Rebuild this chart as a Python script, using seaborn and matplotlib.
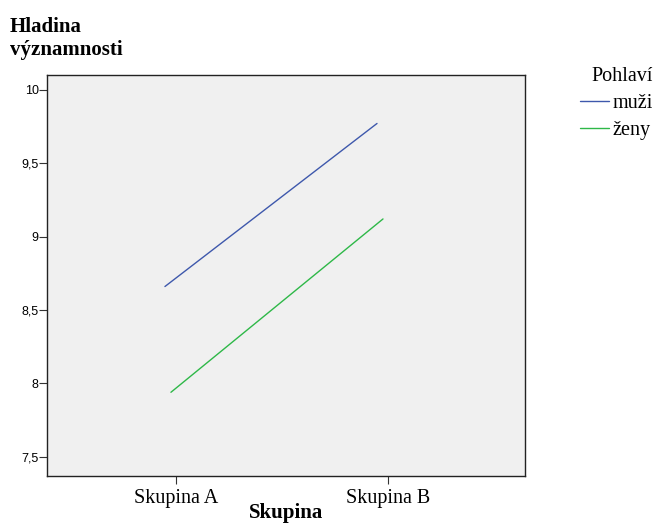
import pandas as pd
import matplotlib
matplotlib.use("Agg")
import matplotlib.pyplot as plt
import matplotlib.transforms as mtransforms
import seaborn as sns

# data
groups = ["Skupina A", "Skupina B"]
muzi = [8.66, 9.77]
zeny = [7.94, 9.12]
sex_labels = ["muži", "ženy"]
y_ticks = [7.5, 8.0, 8.5, 9.0, 9.5, 10.0]
y_tick_labels = ["7,5", "8", "8,5", "9", "9,5", "10"]

SERIF = "Liberation Serif"
SANS = "Liberation Sans"


def build_frame():
    rows = []
    for sex, vals in zip(sex_labels, [muzi, zeny]):
        for g, v in zip(groups, vals):
            rows.append({"Skupina": g, "hodnota": v, "Pohlaví": sex})
    return pd.DataFrame(rows)


def main():
    sns.set_style("white")
    plt.rcParams["font.family"] = [SERIF, "DejaVu Serif"]
    plt.rcParams["text.color"] = "black"
    plt.rcParams["xtick.color"] = "black"
    plt.rcParams["ytick.color"] = "black"
    df = build_frame()

    fig = plt.figure(figsize=(6.53, 5.24), dpi=100)
    ax = fig.add_axes([47 / 653, 1 - 476 / 524, 478 / 653, 401 / 524])
    ax.set_facecolor("#F0F0F0")

    sns.lineplot(data=df, x="Skupina", y="hodnota", hue="Pohlaví",
                 palette=["#3E58AC", "#2EB848"], linewidth=1, ax=ax)

    # SPSS draws the lines a few pixels left of the category ticks
    for line, dx in zip(ax.lines[:2], [-11, -5]):
        line.set_transform(mtransforms.offset_copy(ax.transData, fig=fig,
                                                   x=dx, y=0, units="dots"))

    ax.set_xlim(-0.608, 1.646)
    ax.set_ylim(7.37, 10.10)
    ax.set_yticks(y_ticks)
    ax.set_yticklabels(y_tick_labels, fontfamily=SANS, fontsize=9)
    ax.tick_params(axis="y", length=6, width=0.8, pad=0, color="#333333",
                   labelcolor="black", left=True)
    ax.tick_params(axis="x", length=6, width=0.8, pad=3, color="#333333",
                   labelcolor="black", labelsize=14.5, bottom=True)
    for s in ax.spines.values():
        s.set_visible(True)
        s.set_color("#222222")
        s.set_linewidth(1)

    ax.set_xlabel("Skupina", fontsize=15, fontweight="bold", labelpad=-3,
                  color="black")
    ax.set_ylabel("")
    fig.text(10 / 653, 1 - 32 / 524, "Hladina", fontsize=15,
             fontweight="bold", va="baseline", color="black")
    fig.text(10 / 653, 1 - 55 / 524, "významnosti", fontsize=15,
             fontweight="bold", va="baseline", color="black")

    sns.move_legend(ax, loc="upper left", bbox_to_anchor=(1.094, 1.045),
                    frameon=False, title="Pohlaví", fontsize=14.5,
                    title_fontsize=14.5, borderpad=0, handlelength=1.45,
                    handletextpad=0.15, labelspacing=0.4, alignment="right")
    leg = ax.get_legend()
    leg.get_title().set_color("black")
    for t in leg.get_texts():
        t.set_color("black")

    fig.savefig("out.png", dpi=100)


if __name__ == "__main__":
    main()
